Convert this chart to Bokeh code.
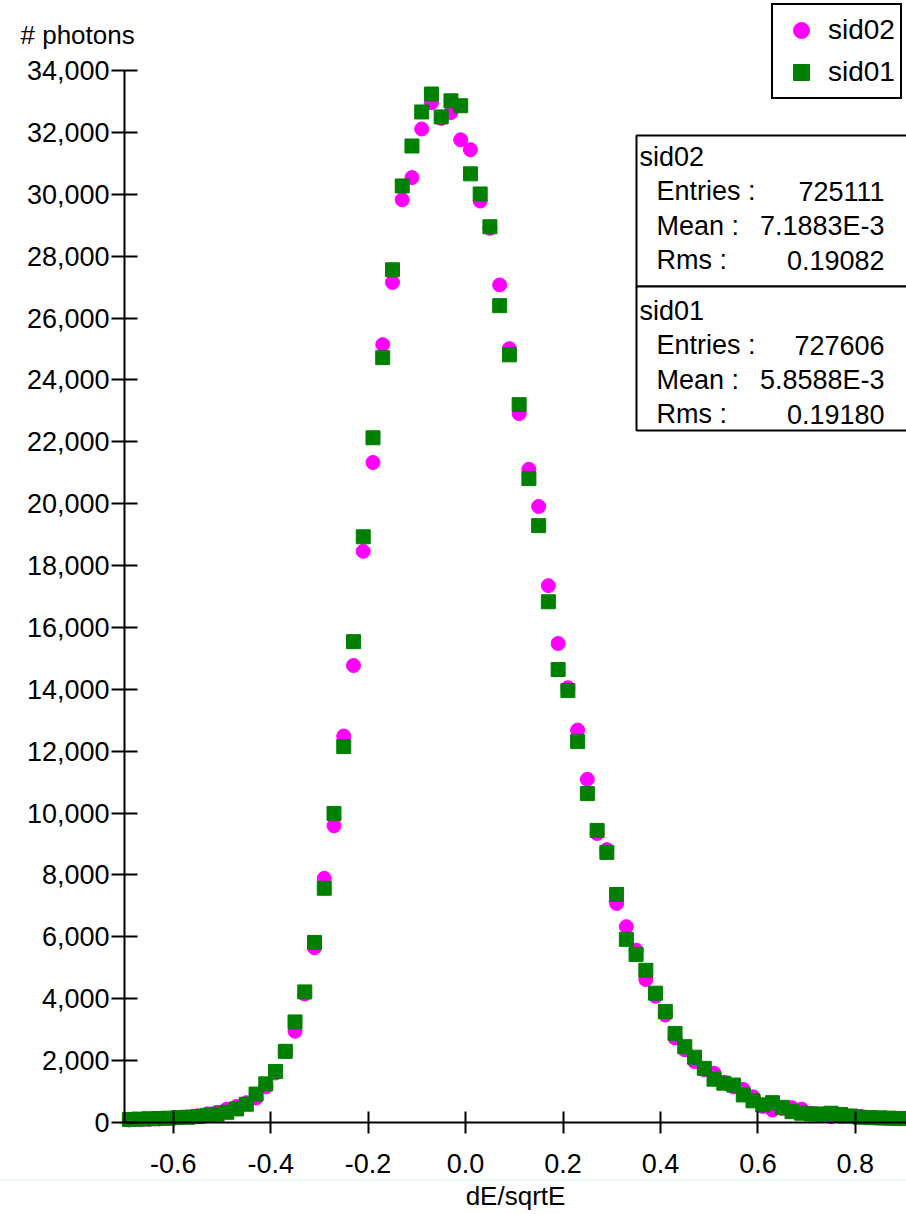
from bokeh.plotting import figure
from bokeh.models import (Legend, LegendItem, Label, BoxAnnotation, FixedTicker,
                          NumeralTickFormatter, PrintfTickFormatter, Range1d, ColumnDataSource)
from bokeh.embed import file_html
from bokeh.resources import INLINE

# ---------------- data ----------------
bin_centers = [-0.69, -0.67, -0.65, -0.63, -0.61, -0.59, -0.57, -0.55, -0.53, -0.51,
               -0.49, -0.47, -0.45, -0.43, -0.41, -0.39, -0.37, -0.35, -0.33, -0.31,
               -0.29, -0.27, -0.25, -0.23, -0.21, -0.19, -0.17, -0.15, -0.13, -0.11,
               -0.09, -0.07, -0.05, -0.03, -0.01, 0.01, 0.03, 0.05, 0.07, 0.09,
               0.11, 0.13, 0.15, 0.17, 0.19, 0.21, 0.23, 0.25, 0.27, 0.29,
               0.31, 0.33, 0.35, 0.37, 0.39, 0.41, 0.43, 0.45, 0.47, 0.49,
               0.51, 0.53, 0.55, 0.57, 0.59, 0.61, 0.63, 0.65, 0.67, 0.69,
               0.71, 0.73, 0.75, 0.77, 0.79, 0.81, 0.83, 0.85, 0.87, 0.89]

sid02_counts = [80, 90, 100, 110, 130, 150, 180, 220, 280, 330,
                430, 520, 640, 790, 1150, 1600, 2300, 2950, 4150, 5650,
                7890, 9590, 12490, 14770, 18460, 21330, 25140, 27150, 29820, 30540,
                32110, 32960, 32450, 32640, 31760, 31440, 29780, 28900, 27070, 25010,
                22910, 21110, 19910, 17350, 15480, 14050, 12680, 11090, 9340, 8820,
                7080, 6330, 5570, 4620, 4080, 3470, 2730, 2350, 1970, 1700,
                1590, 1300, 1150, 1070, 830, 520, 400, 450, 480, 430,
                300, 250, 190, 200, 210, 200, 150, 140, 130, 120]

sid01_counts = [100, 110, 120, 130, 140, 160, 170, 190, 230, 270,
                330, 440, 590, 920, 1250, 1650, 2300, 3250, 4220, 5820,
                7570, 9990, 12150, 15540, 18930, 22130, 24720, 27560, 30270, 31560,
                32660, 33240, 32500, 33020, 32860, 30660, 30010, 28950, 26400, 24810,
                23200, 20810, 19290, 16830, 14640, 13960, 12310, 10630, 9440, 8730,
                7370, 5920, 5430, 4920, 4180, 3590, 2880, 2450, 2110, 1750,
                1400, 1270, 1210, 890, 700, 570, 640, 490, 350, 300,
                275, 275, 300, 260, 210, 170, 160, 150, 140, 130]

series_names = ["sid02", "sid01"]
stat_entries = ["725111", "727606"]
stat_means = ["7.1883E-3", "5.8588E-3"]
stat_rms = ["0.19082", "0.19180"]

x_ticks = [-0.6, -0.4, -0.2, 0.0, 0.2, 0.4, 0.6, 0.8]
y_ticks = list(range(0, 34001, 2000))
x_axis_min, x_axis_max = -0.7, 0.905
y_axis_min, y_axis_max = 0, 34000

x_title = "dE/sqrtE"
y_title = "# photons"

# ---------------- layout / styles ----------------
FONT = "Liberation Sans"
MAGENTA = "#ff00ff"
GREEN = "#008000"

W, H = 906, 1214
AX_LEFT_PX = 124      # pixel column of the y axis
AX_BOTTOM_PX = 1122   # pixel row of the x axis
AX_TOP_PX = 70        # pixel row of the top y tick

x_per_px = (x_axis_max - x_axis_min) / (W - AX_LEFT_PX)
y_per_px = (y_axis_max - y_axis_min) / (AX_BOTTOM_PX - AX_TOP_PX)
x_start = x_axis_min - AX_LEFT_PX * x_per_px
y_start = y_axis_min - (H - AX_BOTTOM_PX) * y_per_px
y_end = y_axis_max + AX_TOP_PX * y_per_px

p = figure(width=W, height=H, output_backend="svg", toolbar_location=None,
           x_range=Range1d(x_start, x_axis_max), y_range=Range1d(y_start, y_end),
           min_border=0, min_border_left=0, min_border_right=0,
           min_border_top=0, min_border_bottom=0)
p.title.visible = False
p.outline_line_color = None
p.xgrid.visible = False
p.ygrid.visible = False
p.background_fill_color = "white"
p.border_fill_color = "white"

src = ColumnDataSource(dict(x=bin_centers, a=sid02_counts, b=sid01_counts))
r2 = p.scatter("x", "a", source=src, marker="circle", size=14,
               fill_color=MAGENTA, line_color=MAGENTA)
r1 = p.scatter("x", "b", source=src, marker="square", size=14,
               fill_color=GREEN, line_color=GREEN)

# axes drawn at fixed data locations (inside the full-canvas frame)
for ax in (p.xaxis[0], p.yaxis[0]):
    ax.axis_line_width = 2
    ax.axis_line_color = "black"
    ax.major_tick_line_width = 2
    ax.major_tick_line_color = "black"
    ax.minor_tick_line_color = None
    ax.major_label_text_font = FONT
    ax.major_label_text_font_size = "27px"
    ax.major_label_text_color = "black"

p.xaxis.fixed_location = y_axis_min
p.xaxis.bounds = (x_axis_min, x_axis_max)
p.xaxis.ticker = FixedTicker(ticks=x_ticks)
p.xaxis.formatter = PrintfTickFormatter(format="%.1f")
p.xaxis.major_tick_in = 11
p.xaxis.major_tick_out = 11
p.xaxis.major_label_standoff = 20
p.xaxis.axis_label = x_title
p.xaxis.axis_label_text_font = FONT
p.xaxis.axis_label_text_font_size = "26px"
p.xaxis.axis_label_text_font_style = "normal"
p.xaxis.axis_label_text_color = "black"
p.xaxis.axis_label_standoff = 5

p.yaxis.fixed_location = x_axis_min
p.yaxis.bounds = (y_axis_min, y_axis_max)
p.yaxis.ticker = FixedTicker(ticks=y_ticks)
p.yaxis.formatter = NumeralTickFormatter(format="0,0")
p.yaxis.major_tick_in = 13
p.yaxis.major_tick_out = 13
p.yaxis.major_label_standoff = 2

# y title above the axis
p.add_layout(Label(x=x_axis_min, y=y_axis_max, x_offset=-104, y_offset=36, text=y_title,
                   text_font=FONT, text_font_size="26px", text_color="black",
                   text_align="left", text_baseline="middle"))

# faint separator line between tick labels and axis title
p.add_layout(BoxAnnotation(left=0, right=W, top=H - 1179, bottom=H - 1180,
                           left_units="screen", right_units="screen",
                           top_units="screen", bottom_units="screen",
                           fill_color="#dcf2f2", fill_alpha=1, line_color=None))

# legend (top right)
legend = Legend(items=[LegendItem(label=series_names[0], renderers=[r2]),
                       LegendItem(label=series_names[1], renderers=[r1])],
                location=(771, H - 99), orientation="vertical",
                glyph_width=46, glyph_height=40, label_height=40,
                label_standoff=4, padding=5, spacing=2,
                label_text_font=FONT, label_text_font_size="28px",
                label_text_color="black",
                border_line_color="black", border_line_width=2, border_line_alpha=1,
                background_fill_color="white", background_fill_alpha=1)
p.add_layout(legend)

# stats boxes (pixel rows from the top)
box_tops_px = [135, 286]
box_bottoms_px = [286, 430]
title_gap = [21, 24]
for top, bot in zip(box_tops_px, box_bottoms_px):
    p.add_layout(BoxAnnotation(left=636, right=W + 20, top=H - top, bottom=H - bot,
                               left_units="screen", right_units="screen",
                               top_units="screen", bottom_units="screen",
                               fill_color="white", fill_alpha=1,
                               line_color="black", line_width=2, line_alpha=1))

row_step = 34.5
for i, name in enumerate(series_names):
    y0 = H - box_tops_px[i] - title_gap[i]
    p.add_layout(Label(x=639, y=y0, x_units="screen", y_units="screen", text=name,
                       text_font=FONT, text_font_size="27px", text_color="black",
                       text_align="left", text_baseline="middle"))
    rows = [("Entries :", stat_entries[i]), ("Mean :", stat_means[i]), ("Rms :", stat_rms[i])]
    for j, (lab, val) in enumerate(rows):
        yy = y0 - row_step * (j + 1)
        p.add_layout(Label(x=656, y=yy, x_units="screen", y_units="screen", text=lab,
                           text_font=FONT, text_font_size="27px", text_color="black",
                           text_align="left", text_baseline="middle"))
        p.add_layout(Label(x=884, y=yy, x_units="screen", y_units="screen", text=val,
                           text_font=FONT, text_font_size="27px", text_color="black",
                           text_align="right", text_baseline="middle"))

open("out.html", "w").write(file_html(p, INLINE))
